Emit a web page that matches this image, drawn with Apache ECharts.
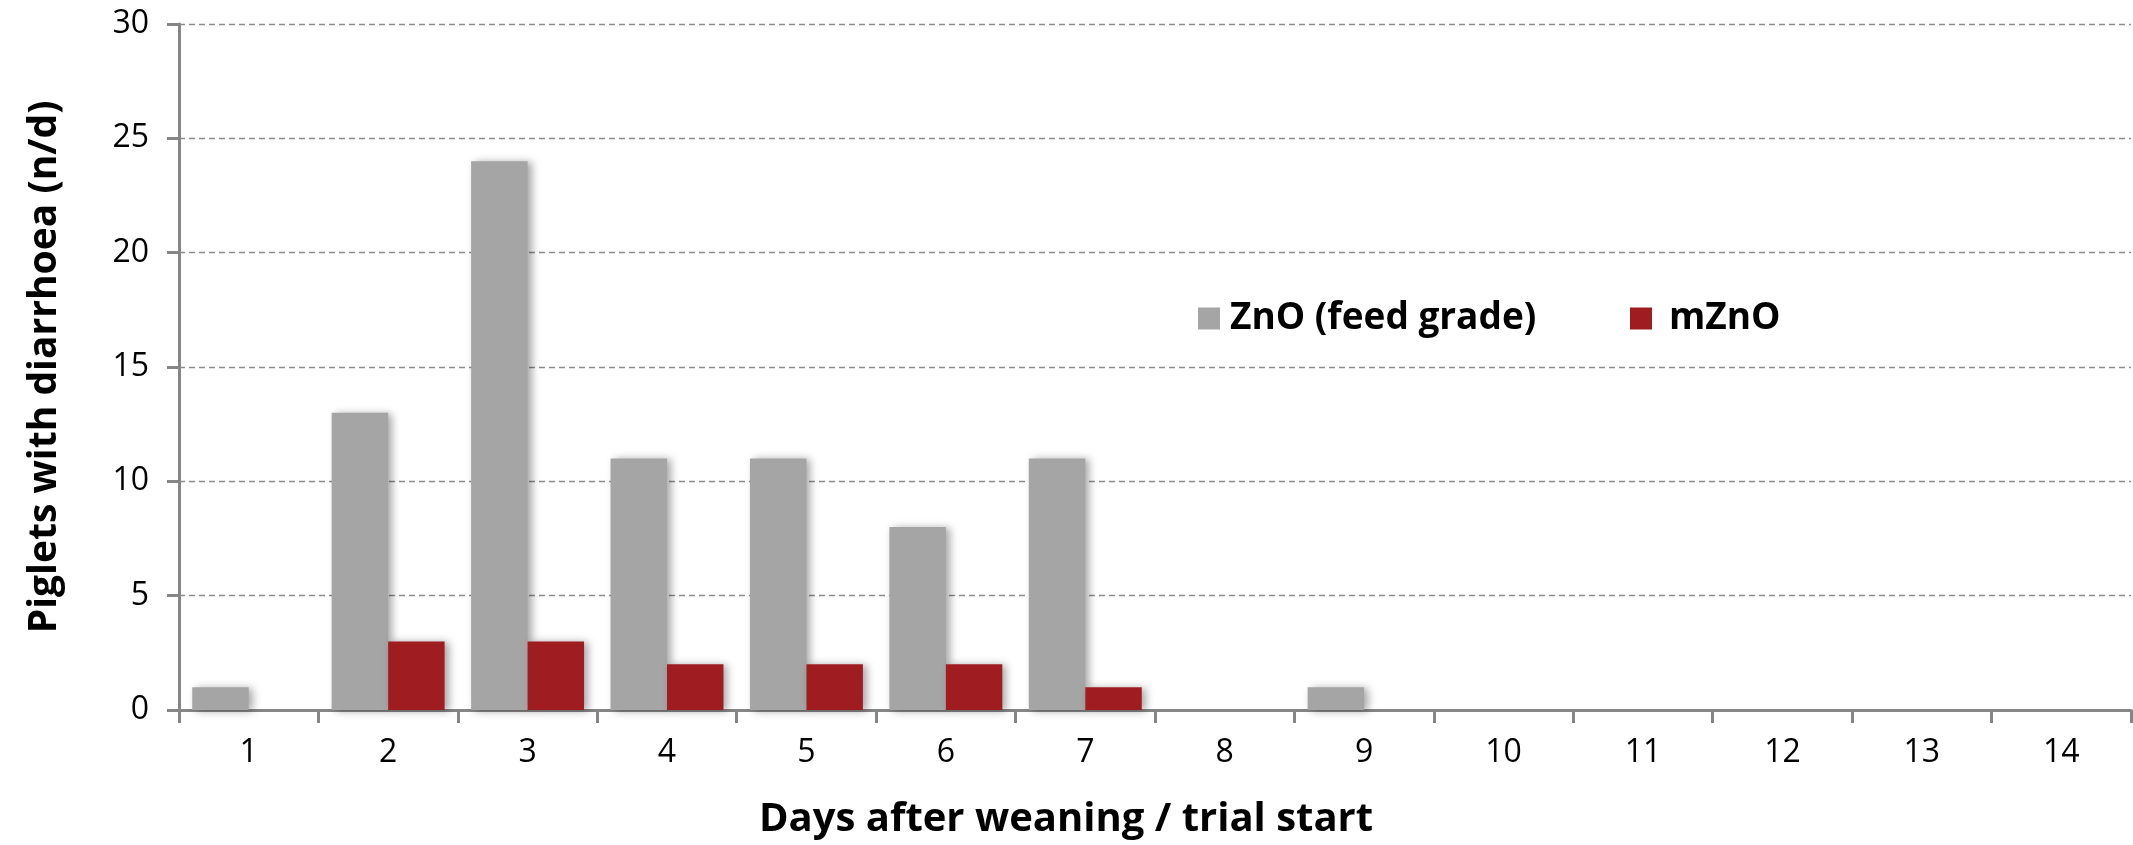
<!DOCTYPE html>
<html>
<head>
<meta charset="utf-8">
<script src="https://cdn.jsdelivr.net/npm/echarts@6/dist/echarts.min.js"></script>
<style>
  html, body { margin: 0; padding: 0; background: #fff; }
  #chart { width: 2133px; height: 845px; }
</style>
</head>
<body>
<div id="chart"></div>
<script>
// Days after weaning (x categories)
const days = ['1', '2', '3', '4', '5', '6', '7', '8', '9', '10', '11', '12', '13', '14'];
// Piglets with diarrhoea per day
const znoFeedGrade = [1, 13, 24, 11, 11, 8, 11, 0, 1, 0, 0, 0, 0, 0];
const mZnO = [0, 3, 3, 2, 2, 2, 1, 0, 0, 0, 0, 0, 0, 0];
const seriesNames = ['ZnO (feed grade)', 'mZnO'];

const FONT = 'Open Sans';
const chart = echarts.init(document.getElementById('chart'), null, { renderer: 'canvas' });

const barShadow = {
  shadowColor: 'rgba(0,0,0,0.35)',
  shadowBlur: 8,
  shadowOffsetX: 4,
  shadowOffsetY: 1
};

// Shared legend look; two legends so each entry can sit at its own spot
const legendBase = {
  top: 295,
  itemWidth: 22,
  itemHeight: 22,
  icon: 'rect',
  textStyle: { fontFamily: FONT, fontWeight: 'bold', fontSize: 37, color: '#000' }
};

chart.setOption({
  animation: false,
  backgroundColor: '#ffffff',
  grid: { left: 179, right: 2, top: 24, bottom: 132, containLabel: false },
  legend: [
    Object.assign({}, legendBase, { left: 1193, itemGap: 0, data: [seriesNames[0]],
      textStyle: Object.assign({}, legendBase.textStyle, { padding: [0, 0, 0, 5] }) }),
    Object.assign({}, legendBase, { left: 1625, itemGap: 0, data: [seriesNames[1]],
      textStyle: Object.assign({}, legendBase.textStyle, { padding: [0, 0, 0, 12] }) })
  ],
  xAxis: {
    type: 'category',
    data: days,
    name: 'Days after weaning / trial start',
    nameLocation: 'middle',
    nameGap: 90,
    nameTextStyle: { fontFamily: FONT, fontWeight: 'bold', fontSize: 40, color: '#000', padding: [0, 178, 0, 0] },
    axisLine: { lineStyle: { color: '#868686', width: 3 } },
    axisTick: { show: true, length: 13, lineStyle: { color: '#868686', width: 3 } },
    axisLabel: { fontFamily: FONT, fontSize: 32, color: '#000', margin: 27 }
  },
  yAxis: {
    type: 'value',
    min: 0,
    max: 30,
    interval: 5,
    name: 'Piglets with diarrhoea (n/d)',
    nameLocation: 'middle',
    nameGap: 115,
    nameTextStyle: { fontFamily: FONT, fontWeight: 'bold', fontSize: 39, color: '#000' },
    axisLine: { show: true, lineStyle: { color: '#868686', width: 3 } },
    axisTick: { show: true, length: 12, lineStyle: { color: '#868686', width: 3 } },
    axisLabel: { fontFamily: FONT, fontSize: 32, color: '#000', margin: 30 },
    splitLine: { show: true, lineStyle: { color: '#8c8c8c', width: 1.3, type: [6, 4] } }
  },
  series: [
    {
      name: seriesNames[0],
      type: 'bar',
      data: znoFeedGrade,
      barGap: '0%',
      barCategoryGap: '19%',
      itemStyle: Object.assign({ color: '#A5A5A5' }, barShadow)
    },
    {
      name: seriesNames[1],
      type: 'bar',
      data: mZnO,
      barGap: '0%',
      barCategoryGap: '19%',
      itemStyle: Object.assign({ color: '#9F1D20' }, barShadow)
    }
  ]
});
</script>
</body>
</html>
